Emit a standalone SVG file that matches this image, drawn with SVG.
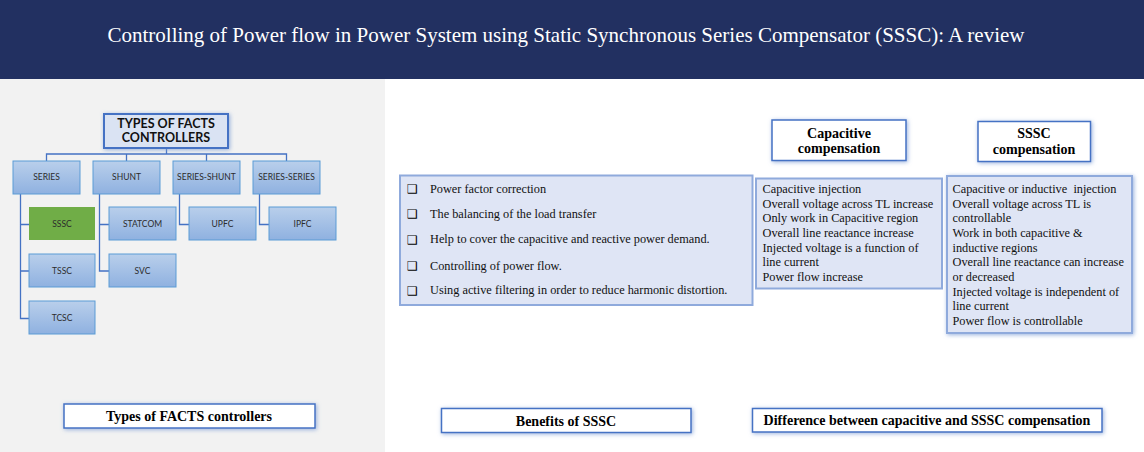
<svg xmlns="http://www.w3.org/2000/svg" width="1144" height="452" viewBox="0 0 1144 452">
<defs>
<linearGradient id="lvl" x1="0" y1="0" x2="0" y2="1">
<stop offset="0" stop-color="#b9cfeb"/>
<stop offset="1" stop-color="#8fb1e0"/>
</linearGradient>
<filter id="glow" x="-20%" y="-40%" width="140%" height="180%">
<feGaussianBlur in="SourceAlpha" stdDeviation="2"/>
<feOffset dx="1" dy="1" result="b"/>
<feFlood flood-color="#7f9fd6" flood-opacity="0.8"/>
<feComposite in2="b" operator="in"/>
<feMerge><feMergeNode/><feMergeNode in="SourceGraphic"/></feMerge>
</filter>
</defs>
<style>
.lvl{fill:url(#lvl);stroke:#5b9bd5;stroke-width:1}
.lt{font-family:Lato,"Liberation Sans",Arial,sans-serif;font-size:8.5px;fill:#2b2b2b;text-anchor:middle}
.conn{fill:none;stroke:#4472c4;stroke-width:1.3}
.ser{font-family:"Liberation Serif","Times New Roman",serif;font-size:12.3px;fill:#111}
.serb{font-family:"Liberation Serif","Times New Roman",serif;font-size:14px;font-weight:bold;fill:#000;text-anchor:middle}
.wbox{fill:#ffffff;stroke:#4472c4;stroke-width:1.5}
.cbox{fill:#dfe5f5;stroke:#8faadc;stroke-width:2}
.bul{font-family:"DejaVu Sans",sans-serif;font-size:12px;fill:#000}
</style>
<rect x="0" y="0" width="1144" height="452" fill="#ffffff"/>
<g id="header">
<rect x="0" y="0" width="1144" height="79" fill="#223061"/>
<text x="566" y="42" font-family="'Liberation Serif','Times New Roman',serif" font-size="21" fill="#ffffff" text-anchor="middle">Controlling of Power flow in Power System using Static Synchronous Series Compensator (SSSC): A review</text>
</g>
<rect x="0" y="79" width="385" height="373" fill="#f2f2f2"/>
<g id="connectors">
<path class="conn" d="M166.5 148 V154 M46.5 161 V154 H286.5 V161 M126.5 154 V161 M206.5 154 V161"/>
<path class="conn" d="M20.5 194 V318.5 H29 M20.5 224.5 H29 M20.5 271 H29"/>
<path class="conn" d="M99.5 194 V271 H109 M99.5 224.5 H109"/>
<path class="conn" d="M179.5 194 V224.5 H189"/>
<path class="conn" d="M259.5 194 V224.5 H269"/>
</g>
<g id="facts-root">
<rect x="104" y="114" width="124" height="34" fill="#dae3f3" stroke="#4472c4" stroke-width="2" filter="url(#glow)"/>
<text x="166" y="127.5" font-family="Lato,'Liberation Sans',Arial,sans-serif" font-size="12.5" font-weight="bold" fill="#111" text-anchor="middle">TYPES OF FACTS</text>
<text x="166" y="142" font-family="Lato,'Liberation Sans',Arial,sans-serif" font-size="12.5" font-weight="bold" fill="#111" text-anchor="middle">CONTROLLERS</text>
</g>
<g id="series"><rect class="lvl" x="13" y="161" width="67" height="33"/><text class="lt" x="46.5" y="179.5">SERIES</text></g>
<g id="shunt"><rect class="lvl" x="93" y="161" width="67" height="33"/><text class="lt" x="126.5" y="179.5">SHUNT</text></g>
<g id="series-shunt"><rect class="lvl" x="173" y="161" width="67" height="33"/><text class="lt" x="206.5" y="179.5">SERIES-SHUNT</text></g>
<g id="series-series"><rect class="lvl" x="253" y="161" width="67" height="33"/><text class="lt" x="286.5" y="179.5">SERIES-SERIES</text></g>
<g id="sssc"><rect x="29" y="207" width="66" height="33" fill="#70ad47"/><text class="lt" x="62" y="226.5">SSSC</text></g>
<g id="tssc"><rect class="lvl" x="29" y="254" width="66" height="33"/><text class="lt" x="62" y="273.5">TSSC</text></g>
<g id="tcsc"><rect class="lvl" x="29" y="301" width="66" height="33"/><text class="lt" x="62" y="320.5">TCSC</text></g>
<g id="statcom"><rect class="lvl" x="109" y="207" width="67" height="33"/><text class="lt" x="142.5" y="226.5">STATCOM</text></g>
<g id="svc"><rect class="lvl" x="109" y="254" width="67" height="33"/><text class="lt" x="142.5" y="273.5">SVC</text></g>
<g id="upfc"><rect class="lvl" x="189" y="207" width="67" height="33"/><text class="lt" x="222.5" y="226.5">UPFC</text></g>
<g id="ipfc"><rect class="lvl" x="269" y="207" width="67" height="33"/><text class="lt" x="302.5" y="226.5">IPFC</text></g>
<g id="label-types">
<rect class="wbox" x="64" y="404" width="251" height="24" filter="url(#glow)"/>
<text class="serb" x="189" y="421">Types of FACTS controllers</text>
</g>
<g id="benefits">
<rect class="cbox" x="400" y="175.5" width="352.5" height="129.5"/>
<text class="bul" x="407" y="193">❑</text><text class="ser" x="430" y="192.5">Power factor correction</text>
<text class="bul" x="407" y="218">❑</text><text class="ser" x="430" y="217.5">The balancing of the load transfer</text>
<text class="bul" x="407" y="243.5">❑</text><text class="ser" x="430" y="243">Help to cover the capacitive and reactive power demand.</text>
<text class="bul" x="407" y="270">❑</text><text class="ser" x="430" y="269.5">Controlling of power flow.</text>
<text class="bul" x="407" y="294.5">❑</text><text class="ser" x="430" y="294">Using active filtering in order to reduce harmonic distortion.</text>
</g>
<g id="label-benefits">
<rect class="wbox" x="441.5" y="408.5" width="249.5" height="24" filter="url(#glow)"/>
<text class="serb" x="566" y="425.5">Benefits of SSSC</text>
</g>
<g id="cap-head">
<rect class="wbox" x="772" y="120" width="134" height="40.5" filter="url(#glow)"/>
<text class="serb" x="839" y="137.5">Capacitive</text>
<text class="serb" x="839" y="153">compensation</text>
</g>
<g id="sssc-head">
<rect class="wbox" x="978" y="121.5" width="112.5" height="40" filter="url(#glow)"/>
<text class="serb" x="1034" y="138">SSSC</text>
<text class="serb" x="1034" y="154">compensation</text>
</g>
<g id="cap-body">
<rect class="cbox" x="756" y="178.5" width="186" height="110"/>
<text class="ser" x="762.5" y="193">Capacitive injection</text>
<text class="ser" x="762.5" y="207.7">Overall voltage across TL increase</text>
<text class="ser" x="762.5" y="222.3">Only work in Capacitive region</text>
<text class="ser" x="762.5" y="237">Overall line reactance increase</text>
<text class="ser" x="762.5" y="251.7">Injected voltage is a function of</text>
<text class="ser" x="762.5" y="266.3">line current</text>
<text class="ser" x="762.5" y="281">Power flow increase</text>
</g>
<g id="sssc-body">
<rect class="cbox" x="947" y="176" width="185" height="157" filter="url(#glow)"/>
<text class="ser" x="952.5" y="193" xml:space="preserve">Capacitive or inductive  injection</text>
<text class="ser" x="952.5" y="208">Overall voltage across TL is</text>
<text class="ser" x="952.5" y="221.7">controllable</text>
<text class="ser" x="952.5" y="236.7">Work in both capacitive &amp;</text>
<text class="ser" x="952.5" y="251.7">inductive regions</text>
<text class="ser" x="952.5" y="266">Overall line reactance can increase</text>
<text class="ser" x="952.5" y="280.7">or decreased</text>
<text class="ser" x="952.5" y="296">Injected voltage is independent of</text>
<text class="ser" x="952.5" y="310">line current</text>
<text class="ser" x="952.5" y="324.7">Power flow is controllable</text>
</g>
<g id="label-diff">
<rect class="wbox" x="752.5" y="408.5" width="349.5" height="23.5" filter="url(#glow)"/>
<text class="serb" x="927" y="425">Difference between capacitive and SSSC compensation</text>
</g>
</svg>
